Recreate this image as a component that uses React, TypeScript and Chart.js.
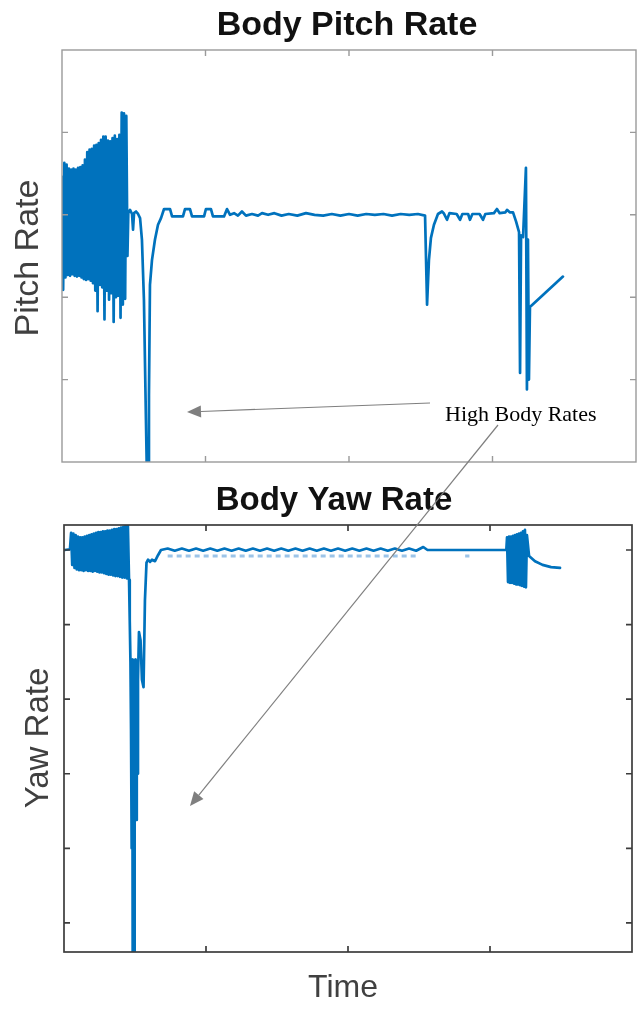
import React, { useEffect, useRef } from "react";
import { Chart, registerables } from "chart.js";

Chart.register(...registerables);

// ---------------- data ----------------
const timeTicks = [10, 20, 30];
const pitchTicks = [-2, -1, 0, 1];
const yawTicks = [-5, -4, -3, -2, -1, 0];

const pitchTime = [
  0.0, 0.08, 0.16, 0.24, 0.32, 0.4, 0.48, 0.56, 0.64, 0.72,
  0.8, 0.88, 0.96, 1.04, 1.12, 1.2, 1.28, 1.36, 1.44, 1.52,
  1.6, 1.68, 1.76, 1.84, 1.92, 2.0, 2.08, 2.16, 2.24, 2.32,
  2.4, 2.48, 2.56, 2.64, 2.72, 2.8, 2.88, 2.96, 3.04, 3.12,
  3.2, 3.28, 3.36, 3.44, 3.52, 3.6, 3.68, 3.76, 3.84, 3.92,
  4.0, 4.08, 4.16, 4.24, 4.32, 4.4, 4.48, 4.56,
  4.62, 4.74, 4.88, 4.95, 5.02, 5.16, 5.3, 5.44, 5.57, 5.71,
  5.85, 5.92, 6.03, 6.06, 6.13, 6.27, 6.48, 6.69, 6.9,
  7.11, 7.53, 7.67, 8.43, 8.57, 8.92, 9.06, 9.9, 10.03, 10.38,
  10.52, 11.29, 11.5, 11.71, 11.99, 12.26, 12.54, 12.82, 13.24, 13.66,
  13.94, 14.36, 14.8, 15.3, 15.8, 16.4, 17.0, 17.6, 18.2, 18.8,
  19.4, 20.0, 20.6, 21.2, 21.8, 22.4, 23.0, 23.6, 24.2, 24.8,
  25.3, 25.44, 25.57, 25.71, 25.92, 26.2, 26.48, 26.6, 26.83, 27.0,
  27.5, 27.74, 27.9, 28.3, 28.43, 28.6, 29.1, 29.34, 29.5, 30.1,
  30.31, 30.5, 30.9, 31.01, 31.2, 31.43, 31.64, 31.85, 31.92, 31.99,
  32.13, 32.33, 32.4, 32.47, 32.54, 32.61, 34.91,
];
const pitchRate = [
  0.46, -0.91, 0.63, -0.76, 0.61, -0.73, 0.56, -0.74, 0.55, -0.72,
  0.56, -0.74, 0.55, -0.75, 0.57, -0.74, 0.58, -0.76, 0.6, -0.78,
  0.67, -0.79, 0.76, -0.78, 0.79, -0.8, 0.8, -0.83, 0.84, -0.92,
  0.85, -1.17, 0.87, -0.85, 0.91, -0.88, 0.95, -1.27, 0.95, -0.92,
  0.9, -1.03, 0.89, -0.95, 0.93, -1.3, 0.96, -1.0, 0.92, -0.98,
  0.97, -1.25, 1.24, -1.09, 1.23, -1.02, 1.2, -0.5,
  0.02, 0.06, 0.01, -0.18, 0.02, 0.04, 0.01, -0.04, -0.3, -1.03,
  -2.49, -3.2, -3.2, -2.2, -0.85, -0.55, -0.3, -0.12, -0.04,
  0.07, 0.07, -0.02, -0.02, 0.07, 0.07, -0.02, -0.02, 0.07, 0.07,
  -0.02, -0.02, 0.07, 0.0, 0.02, -0.01, 0.04, -0.01, 0.01, -0.01,
  0.02, 0.0, 0.02, -0.01, 0.01, -0.01, 0.02, 0.0, -0.01, 0.01,
  -0.01, 0.01, -0.01, 0.01, 0.0, 0.01, -0.01, 0.01, 0.0, 0.01,
  -0.01, -1.09, -0.55, -0.28, -0.12, 0.01, 0.04, 0.02, -0.06, 0.02,
  0.01, -0.06, 0.01, 0.01, -0.06, 0.01, 0.01, -0.06, 0.01, 0.02,
  0.07, 0.02, 0.03, 0.06, 0.03, 0.03, -0.08, -0.21, -1.92, -0.25,
  -0.27, 0.57, -2.12, -0.3, -2.0, -1.12, -0.75,
];

const yawTime = [
  0.05, 0.42,
  0.5, 0.58, 0.66, 0.74, 0.82, 0.9, 0.98, 1.06, 1.14, 1.22,
  1.3, 1.38, 1.46, 1.54, 1.62, 1.7, 1.78, 1.86, 1.94, 2.02,
  2.1, 2.18, 2.26, 2.34, 2.42, 2.5, 2.58, 2.66, 2.74, 2.82,
  2.9, 2.98, 3.06, 3.14, 3.22, 3.3, 3.38, 3.46, 3.54, 3.62,
  3.7, 3.78, 3.86, 3.94, 4.02, 4.1, 4.18, 4.26, 4.34, 4.42, 4.5,
  4.58, 4.63, 4.68, 4.72, 4.75, 4.78, 4.81, 4.84, 4.87, 4.9,
  4.93, 4.96, 4.99, 5.02, 5.05, 5.08, 5.11, 5.14, 5.18, 5.21,
  5.28, 5.39, 5.49, 5.6, 5.7, 5.81, 5.92, 6.06, 6.2, 6.41,
  6.62, 6.83,
  7.3, 7.8, 8.3, 8.8, 9.3, 9.8, 10.3, 10.8, 11.3, 11.8,
  12.3, 12.8, 13.3, 13.8, 14.3, 14.8, 15.3, 15.8, 16.3, 16.8,
  17.3, 17.8, 18.3, 18.8, 19.3, 19.8, 20.3, 20.8, 21.3, 21.8,
  22.3, 22.8, 23.3, 23.8, 24.3, 24.8, 25.3, 25.6, 31.15,
  31.2, 31.27, 31.34, 31.41, 31.48, 31.55, 31.62, 31.69, 31.76, 31.83,
  31.9, 31.97, 32.04, 32.11, 32.18, 32.25, 32.32, 32.39, 32.46, 32.53, 32.6,
  32.75, 33.17, 33.7, 34.3, 34.93,
];
const yawRate = [
  0.0, 0.01,
  0.23, -0.2, 0.22, -0.24, 0.2, -0.26, 0.18, -0.27, 0.17, -0.27,
  0.17, -0.28, 0.18, -0.27, 0.19, -0.28, 0.2, -0.28, 0.21, -0.29,
  0.22, -0.28, 0.23, -0.29, 0.24, -0.3, 0.24, -0.3, 0.25, -0.31,
  0.25, -0.32, 0.26, -0.33, 0.26, -0.33, 0.27, -0.34, 0.28, -0.35,
  0.28, -0.35, 0.29, -0.36, 0.3, -0.37, 0.31, -0.37, 0.33, -0.38, 0.32,
  -0.4, -0.94, -1.5, -2.4, -1.47, -4.0, -1.47, -5.8, -1.5, -3.66,
  -5.8, -1.6, -3.66, -1.47, -3.6, -1.5, -3.62, -1.6, -3.0, -1.74,
  -1.1, -1.21, -1.74, -1.84, -0.67, -0.17, -0.13, -0.16, -0.13, -0.15,
  -0.07, 0.0,
  0.02, -0.01, 0.02, -0.01, 0.02, -0.01, 0.02, -0.01, 0.02, -0.01,
  0.02, -0.01, 0.02, -0.01, 0.02, -0.01, 0.02, -0.01, 0.02, -0.01,
  0.02, -0.01, 0.02, -0.01, 0.02, -0.01, 0.02, -0.01, 0.02, -0.01,
  0.02, -0.01, 0.02, -0.01, 0.02, -0.01, 0.04, 0.0, 0.0,
  0.17, -0.43, 0.18, -0.44, 0.18, -0.44, 0.19, -0.45, 0.2, -0.46,
  0.21, -0.46, 0.22, -0.47, 0.23, -0.48, 0.25, -0.49, 0.27, -0.5, 0.2,
  -0.08, -0.15, -0.2, -0.23, -0.24,
];

const yawRefTime = [7.3, 24.9, 26.0, 28.25, 28.55];
const yawRefRate = [-0.08, -0.08, null, -0.08, -0.08];

// ---------------- styling ----------------
const BLUE = "#0072BD";
const SANS = "'Liberation Sans', Arial, Helvetica, sans-serif";
const SERIF = "'Liberation Serif', 'Times New Roman', serif";

type TextSpec = { text: string; x: number; y: number; font: string; color: string; rotate?: boolean };
type Frame = { boxColor: string; boxWidth: number; tickLen: number; xTicks: number[]; yTicks: number[]; texts: TextSpec[] };

function makeFramePlugin(frame: Frame) {
  return {
    id: "frame",
    afterDatasetsDraw(chart: any) {
      const { ctx, chartArea: a, scales } = chart;
      const L = frame.tickLen;
      ctx.save();
      ctx.strokeStyle = frame.boxColor;
      ctx.lineWidth = frame.boxWidth;
      ctx.beginPath();
      for (const v of frame.xTicks) {
        const x = scales.x.getPixelForValue(v);
        ctx.moveTo(x, a.top);
        ctx.lineTo(x, a.top + L);
        ctx.moveTo(x, a.bottom);
        ctx.lineTo(x, a.bottom - L);
      }
      for (const v of frame.yTicks) {
        const y = scales.y.getPixelForValue(v);
        ctx.moveTo(a.left, y);
        ctx.lineTo(a.left + L, y);
        ctx.moveTo(a.right, y);
        ctx.lineTo(a.right - L, y);
      }
      ctx.stroke();
      ctx.strokeRect(a.left, a.top, a.right - a.left, a.bottom - a.top);
      for (const t of frame.texts) {
        ctx.save();
        ctx.font = t.font;
        ctx.fillStyle = t.color;
        ctx.textAlign = "center";
        if (t.rotate) {
          ctx.translate(t.x, t.y);
          ctx.rotate(-Math.PI / 2);
          ctx.textBaseline = "middle";
          ctx.fillText(t.text, 0, 0);
        } else {
          ctx.textBaseline = "alphabetic";
          ctx.fillText(t.text, t.x, t.y);
        }
        ctx.restore();
      }
      ctx.restore();
    },
  };
}

type PanelProps = {
  top: number;
  height: number;
  datasets: any[];
  yMin: number;
  yMax: number;
  padding: { left: number; right: number; top: number; bottom: number };
  frame: Frame;
};

function Panel({ top, height, datasets, yMin, yMax, padding, frame }: PanelProps) {
  const ref = useRef<HTMLCanvasElement>(null);
  useEffect(() => {
    const chart = new Chart(ref.current as HTMLCanvasElement, {
      type: "line",
      data: { datasets },
      options: {
        animation: false,
        responsive: false,
        events: [],
        layout: { padding },
        plugins: {
          legend: { display: false },
          tooltip: { enabled: false },
          title: { display: false },
        },
        scales: {
          x: { type: "linear", min: 0, max: 40, display: false },
          y: { type: "linear", min: yMin, max: yMax, display: false },
        },
      } as any,
      plugins: [makeFramePlugin(frame)],
    });
    return () => chart.destroy();
  }, []);
  return (
    <div style={{ position: "absolute", left: 0, top, width: 639, height }}>
      <canvas ref={ref} width={639} height={height} style={{ width: 639, height, display: "block" }} />
    </div>
  );
}

function lineDataset(times: number[], values: (number | null)[], extra: any = {}) {
  return {
    data: times.map((t, i) => ({ x: t, y: values[i] })),
    borderColor: BLUE,
    borderWidth: 2.7,
    pointRadius: 0,
    tension: 0,
    fill: false,
    spanGaps: false,
    borderJoinStyle: "round",
    borderCapStyle: "round",
    ...extra,
  };
}

function Arrow({ x1, y1, x2, y2 }: { x1: number; y1: number; x2: number; y2: number }) {
  const dx = x2 - x1;
  const dy = y2 - y1;
  const len = Math.hypot(dx, dy);
  const ux = dx / len;
  const uy = dy / len;
  const head = 14;
  const half = 6;
  const bx = x2 - ux * head;
  const by = y2 - uy * head;
  const pts = `${x2},${y2} ${bx - uy * half},${by + ux * half} ${bx + uy * half},${by - ux * half}`;
  return (
    <g>
      <line x1={x1} y1={y1} x2={bx} y2={by} stroke="#7f7f7f" strokeWidth={1.2} />
      <polygon points={pts} fill="#7f7f7f" />
    </g>
  );
}

export default function App() {
  const pitchDatasets = [lineDataset(pitchTime, pitchRate)];
  const yawDatasets = [
    lineDataset(yawRefTime, yawRefRate, { borderColor: "#9cc4e8", borderWidth: 3, borderDash: [5, 4], borderCapStyle: "butt" }),
    lineDataset(yawTime, yawRate),
  ];

  const pitchFrame: Frame = {
    boxColor: "#9a9a9a",
    boxWidth: 1.4,
    tickLen: 6,
    xTicks: timeTicks,
    yTicks: pitchTicks,
    texts: [
      { text: "Body Pitch Rate", x: 347, y: 35, font: `bold 34px ${SANS}`, color: "#111111" },
      { text: "Pitch Rate", x: 29, y: 258, font: `34px ${SANS}`, color: "#404040", rotate: true },
    ],
  };
  const yawFrame: Frame = {
    boxColor: "#3c3c3c",
    boxWidth: 1.7,
    tickLen: 6,
    xTicks: timeTicks,
    yTicks: yawTicks,
    texts: [
      { text: "Body Yaw Rate", x: 334, y: 40, font: `bold 33px ${SANS}`, color: "#111111" },
      { text: "Yaw Rate", x: 39, y: 268, font: `33px ${SANS}`, color: "#404040", rotate: true },
      { text: "Time", x: 343, y: 527, font: `32px ${SANS}`, color: "#404040" },
    ],
  };

  return (
    <div style={{ position: "absolute", left: 0, top: 0, width: 639, height: 1009, overflow: "hidden", background: "#fff" }}>
      <Panel
        top={0}
        height={470}
        datasets={pitchDatasets}
        yMin={-3}
        yMax={2}
        padding={{ left: 62, right: 3, top: 50, bottom: 8 }}
        frame={pitchFrame}
      />
      <Panel
        top={470}
        height={539}
        datasets={yawDatasets}
        yMin={-5.39}
        yMax={0.335}
        padding={{ left: 64, right: 7, top: 55, bottom: 57 }}
        frame={yawFrame}
      />
      <svg width={639} height={1009} style={{ position: "absolute", left: 0, top: 0, pointerEvents: "none" }}>
        <Arrow x1={430} y1={403} x2={187} y2={412} />
        <Arrow x1={498} y1={425} x2={190} y2={806} />
        <text x={445} y={421} fontFamily={SERIF} fontSize={22} fill="#000">
          High Body Rates
        </text>
      </svg>
    </div>
  );
}
